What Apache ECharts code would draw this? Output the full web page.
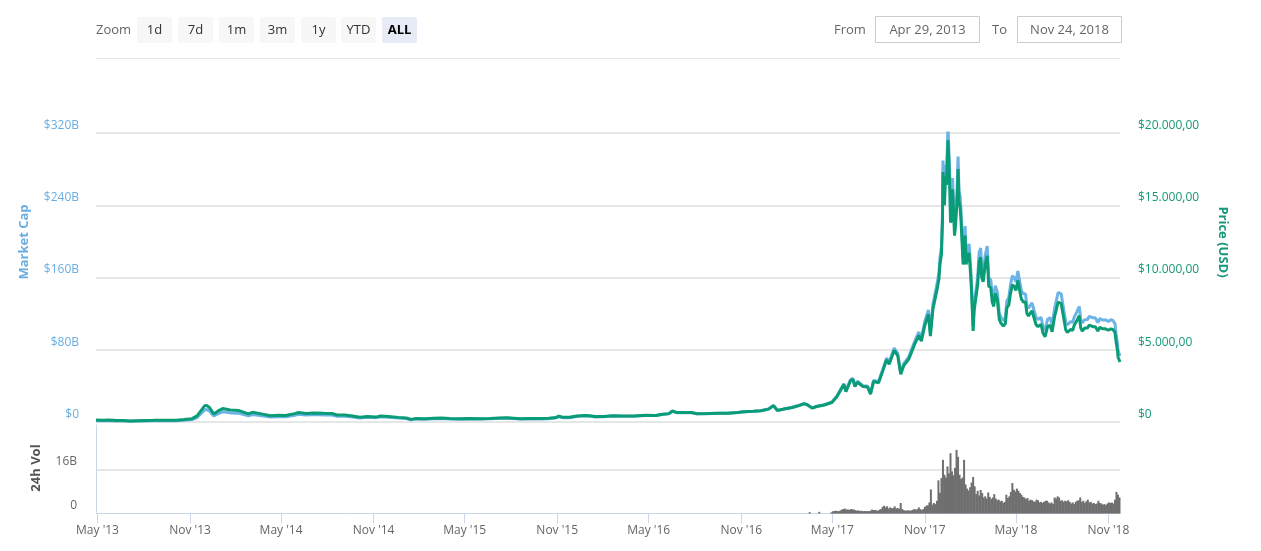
<!DOCTYPE html>
<html>
<head>
<meta charset="utf-8">
<script src="https://cdn.jsdelivr.net/npm/echarts@6.0.0/dist/echarts.min.js"></script>
<style>
html,body{margin:0;padding:0;background:#fff;}
#chart{width:1261px;height:551px;}
</style>
</head>
<body>
<div id="chart"></div>
<script>
// ---------- DATA ----------
const priceDates = [
'2013-04-28','2013-05-10','2013-05-25','2013-06-08','2013-06-22','2013-07-05','2013-07-20','2013-08-05','2013-08-20','2013-09-05',
'2013-09-20','2013-10-05','2013-10-20','2013-11-05','2013-11-15','2013-11-22','2013-11-30','2013-12-04','2013-12-10','2013-12-18',
'2013-12-26','2014-01-05','2014-01-20','2014-02-05','2014-02-25','2014-03-05','2014-03-20','2014-04-10','2014-04-25','2014-05-10',
'2014-05-28','2014-06-05','2014-06-20','2014-07-05','2014-07-25','2014-08-10','2014-08-20','2014-09-05','2014-09-20','2014-10-05',
'2014-10-20','2014-11-05','2014-11-15','2014-12-01','2014-12-20','2015-01-05','2015-01-14','2015-01-25','2015-02-10','2015-03-01',
'2015-03-15','2015-04-01','2015-04-20','2015-05-10','2015-06-01','2015-06-20','2015-07-10','2015-07-25','2015-08-20','2015-09-10',
'2015-09-30','2015-10-15','2015-10-30','2015-11-04','2015-11-12','2015-11-25','2015-12-10','2015-12-25','2016-01-05','2016-01-15',
'2016-02-01','2016-02-20','2016-03-10','2016-04-01','2016-04-25','2016-05-15','2016-05-28','2016-06-10','2016-06-17','2016-06-25',
'2016-07-10','2016-07-25','2016-08-05','2016-08-25','2016-09-15','2016-10-05','2016-10-25','2016-11-05','2016-11-25','2016-12-10',
'2016-12-25','2017-01-04','2017-01-12','2017-01-25','2017-02-10','2017-02-25','2017-03-05','2017-03-12','2017-03-22','2017-03-31',
'2017-04-15','2017-04-30','2017-05-10','2017-05-24','2017-05-28','2017-06-06','2017-06-11','2017-06-15','2017-06-20','2017-07-01',
'2017-07-10','2017-07-16','2017-07-22','2017-08-01','2017-08-08','2017-08-17','2017-08-22','2017-09-01','2017-09-08','2017-09-14',
'2017-09-20','2017-09-30','2017-10-12','2017-10-20','2017-10-25','2017-11-01','2017-11-08','2017-11-12','2017-11-17','2017-11-26',
'2017-11-29','2017-12-01','2017-12-04','2017-12-06','2017-12-07','2017-12-08','2017-12-10','2017-12-12','2017-12-14','2017-12-17',
'2017-12-19','2017-12-21','2017-12-22','2017-12-24','2017-12-26','2017-12-28','2017-12-30','2018-01-01','2018-01-04','2018-01-06',
'2018-01-08','2018-01-10','2018-01-12','2018-01-14','2018-01-16','2018-01-18','2018-01-20','2018-01-22','2018-01-25','2018-01-28',
'2018-01-31','2018-02-02','2018-02-05','2018-02-07','2018-02-10','2018-02-14','2018-02-17','2018-02-20','2018-02-22','2018-02-25',
'2018-03-01','2018-03-05','2018-03-08','2018-03-12','2018-03-15','2018-03-18','2018-03-21','2018-03-25','2018-03-29','2018-04-01',
'2018-04-06','2018-04-10','2018-04-13','2018-04-17','2018-04-20','2018-04-24','2018-04-28','2018-05-01','2018-05-05','2018-05-08',
'2018-05-12','2018-05-16','2018-05-20','2018-05-23','2018-05-26','2018-05-29','2018-06-02','2018-06-05','2018-06-10','2018-06-14',
'2018-06-20','2018-06-24','2018-06-28','2018-07-03','2018-07-08','2018-07-12','2018-07-17','2018-07-20','2018-07-24','2018-07-27',
'2018-07-30','2018-08-03','2018-08-08','2018-08-11','2018-08-14','2018-08-18','2018-08-22','2018-08-25','2018-08-30','2018-09-04',
'2018-09-07','2018-09-10','2018-09-15','2018-09-20','2018-09-24','2018-10-01','2018-10-06','2018-10-11','2018-10-15','2018-10-20',
'2018-10-26','2018-11-01','2018-11-06','2018-11-10','2018-11-14','2018-11-16','2018-11-19','2018-11-20','2018-11-22','2018-11-24'
];
// Price (USD)
const priceValues = [
135,117,131,108,107,68,88,105,113,125,
124,122,170,230,420,750,1120,1150,990,560,
750,930,830,800,560,670,580,430,460,450,
580,660,595,630,600,590,490,480,410,330,
385,340,420,380,320,275,180,250,220,260,
285,245,225,240,225,245,285,290,230,240,
236,255,315,405,330,325,415,455,430,375,
375,440,415,416,460,455,530,580,760,660,
650,655,575,580,610,610,655,705,740,775,
890,1130,800,895,1000,1150,1260,1200,960,1070,
1180,1350,1750,2600,2100,2850,2950,2450,2750,2450,
2420,1930,2800,2720,3400,4300,4000,4950,4600,3300,
3900,4350,5400,6000,5600,6700,7450,5950,7800,9300,
9900,10900,11600,13800,17300,16500,15000,17000,16400,19500,
17800,15600,13800,14000,16100,14600,12900,13600,15200,17500,
15200,14900,13900,13800,10900,11500,12900,10900,11400,11700,
10200,8900,6300,7700,8500,9500,11100,11400,10000,9700,
10900,11500,9400,9300,8300,8000,8900,8500,7100,6850,
6650,6800,7900,8100,8850,9500,9350,9100,9800,9200,
8500,8300,8300,7500,7350,7400,7700,7600,6750,6600,
6750,6150,5900,6600,6700,6250,7300,7400,8300,8200,
8200,7400,6400,6200,6200,6400,6350,6700,7000,7350,
6500,6300,6500,6500,6700,6600,6600,6300,6550,6450,
6450,6350,6450,6400,6200,5600,4950,4500,4400,4150
];
// Market cap (billion USD)
const mcapValues = [
1.50,1.30,1.46,1.21,1.20,0.77,1.00,1.20,1.30,1.45,
1.44,1.43,2.00,2.72,4.99,8.94,13.4,13.8,11.9,6.75,
9.06,11.3,10.1,9.8,6.9,8.3,7.2,5.4,5.8,5.7,
7.4,8.5,7.7,8.2,7.8,7.7,6.4,6.4,5.5,4.4,
5.2,4.6,5.7,5.2,4.4,3.8,2.5,3.4,3.0,3.6,
3.9,3.4,3.1,3.4,3.2,3.5,4.1,4.1,3.3,3.5,
3.4,3.7,4.6,5.9,4.8,4.8,6.2,6.8,6.5,5.6,
5.7,6.7,6.4,6.4,7.1,7.1,8.2,9.0,11.9,10.3,
10.2,10.3,9.0,9.2,9.7,9.7,10.4,11.2,11.8,12.4,
14.3,18.2,12.9,14.4,16.1,18.6,20.4,19.4,15.6,17.4,
19.2,22.0,28.5,42.5,34.3,46.6,48.3,40.1,45.1,40.2,
39.8,31.7,46.1,44.9,56.1,71.0,66.1,81.8,76.1,54.6,
64.6,72.1,89.7,99.7,93.1,111.6,124.2,99.3,130.2,155.4,
165.5,182.2,194.0,230.8,289.4,276.1,251.1,284.6,274.7,326.6,
298.2,261.4,231.3,234.7,270.0,244.9,216.4,228.2,255.1,293.8,
255.2,250.3,233.6,232.0,183.3,193.4,217.0,183.4,191.9,197.0,
171.8,150.0,106.2,129.8,143.4,160.4,187.5,192.6,169.0,164.0,
184.5,194.7,159.2,157.6,140.7,135.7,151.0,144.3,120.6,116.4,
112.3,115.5,134.3,137.8,150.7,161.9,159.4,155.2,167.3,157.1,
145.2,141.9,142.0,128.4,125.9,126.8,132.0,130.4,115.9,113.4,
116.0,105.8,101.6,113.7,115.5,107.8,126.0,127.8,143.4,141.8,
141.9,128.1,110.9,107.5,107.5,111.1,110.3,116.4,121.7,127.9,
113.2,109.8,113.3,113.4,116.9,115.3,115.3,110.2,114.6,112.9,
113.0,111.4,113.2,112.4,108.9,98.4,87.0,79.1,77.4,73.0
];
// 24h volume (billion USD), one bar every 3 days from volStart
const volStart = '2017-04-29';
const volStepDays = 3;
const volValues = [
0.4,0.8,0.9,1.0,0.9,0.8,1.1,1.4,1.6,1.8,
1.4,1.5,1.3,1.6,1.5,1.4,1.2,1.0,1.1,0.9,
1.0,0.8,0.9,0.8,0.9,0.8,1.0,1.4,1.2,1.3,
1.1,1.0,1.4,1.6,2.4,2.8,2.2,2.6,1.8,2.2,
1.9,2.0,2.6,1.8,2.0,1.7,3.8,1.6,1.2,1.1,
1.0,1.2,1.0,1.1,1.3,1.6,1.4,1.5,2.2,1.6,
1.2,1.6,2.4,2.8,3.0,4.0,8.7,3.2,3.8,3.4,
4.6,12.0,7.5,12.8,19.4,14.0,13.0,17.0,14.5,21.8,
15.2,13.8,16.5,23.0,20.5,14.0,12.5,13.0,19.4,10.5,
9.0,8.3,9.5,11.2,13.2,9.8,7.0,8.2,6.5,8.5,
7.4,5.8,6.2,5.4,7.6,6.0,5.2,5.8,7.0,5.4,
4.8,5.0,4.4,4.6,3.8,4.2,6.8,5.6,6.2,7.8,
11.0,8.6,8.0,9.0,8.2,7.4,6.8,6.0,5.8,5.2,
5.6,4.6,5.0,4.8,4.4,4.2,5.0,4.8,4.0,4.2,
3.8,4.2,4.6,4.6,4.0,3.6,4.0,3.4,5.8,5.4,
6.2,5.8,4.6,4.8,4.2,4.6,4.4,4.8,4.2,3.6,
4.0,3.4,4.2,4.6,4.8,5.8,4.2,4.6,3.8,4.4,
5.0,4.0,4.2,3.6,3.8,3.4,3.6,4.6,3.8,3.6,
3.2,3.4,3.0,3.6,4.0,3.8,4.0,3.6,5.0,7.8,
6.8,5.8
];
const earlyVolDates = ['2017-03-17','2017-04-05'];
const earlyVolValues = [0.5,0.6];

const tickDates = ['2013-05-01','2013-11-01','2014-05-01','2014-11-01','2015-05-01','2015-11-01',
                   '2016-05-01','2016-11-01','2017-05-01','2017-11-01','2018-05-01','2018-11-01'];
const tickLabels = ["May '13","Nov '13","May '14","Nov '14","May '15","Nov '15",
                    "May '16","Nov '16","May '17","Nov '17","May '18","Nov '18"];
const zoomButtons = ['1d','7d','1m','3m','1y','YTD','ALL'];
const fromDate = 'Apr 29, 2013';
const toDate = 'Nov 24, 2018';

// ---------- BUILD ----------
const DAY = 86400000;
const ts = s => Date.parse(s + 'T00:00:00Z');
const tickTs = tickDates.map(ts);
const priceData = priceDates.map((d, i) => [ts(d), priceValues[i]]);
const mcapData = priceDates.map((d, i) => [ts(d), mcapValues[i]]);
const volData = earlyVolDates.map((d, i) => [ts(d), earlyVolValues[i]])
  .concat(volValues.map((v, i) => [ts(volStart) + i * volStepDays * DAY, v]));

const FONT = "'Open Sans', 'DejaVu Sans', sans-serif";
const BLUE = '#6cb3e6';
const BLUE_LBL = '#6aaee0';
const GREEN = '#0a9c76';
const GREEN_LBL = '#16987a';
const xMin = ts('2013-04-28'), xMax = ts('2018-11-24');

function priceFmt(v) {
  if (v === 0) return '$0';
  const s = String(v).replace(/\B(?=(\d{3})+(?!\d))/g, '.');
  return '$' + s + ',00';
}

// header graphics
const graphics = [];
graphics.push({type:'text', x:96, y:30, style:{text:'Zoom', fill:'#666', font:"13px " + FONT, textVerticalAlign:'middle'}});
const btnX = [137, 178, 219, 260, 301, 341, 382];
zoomButtons.forEach((b, i) => {
  const sel = b === 'ALL';
  graphics.push({type:'rect', shape:{x:btnX[i], y:17, width:35, height:26, r:2},
    style:{fill: sel ? '#e6ebf5' : '#f7f7f7'}});
  graphics.push({type:'text', x:btnX[i] + 17.5, y:30,
    style:{text:b, fill: sel ? '#000' : '#333', font:(sel ? 'bold ' : '') + "13px " + FONT,
      textAlign:'center', textVerticalAlign:'middle'}});
});
graphics.push({type:'text', x:834, y:30, style:{text:'From', fill:'#666', font:"13px " + FONT, textVerticalAlign:'middle'}});
graphics.push({type:'rect', shape:{x:875.5, y:16.5, width:104, height:26}, style:{fill:'#fff', stroke:'#cccccc', lineWidth:1}});
graphics.push({type:'text', x:927.5, y:30, style:{text:fromDate, fill:'#666', font:"13px " + FONT, textAlign:'center', textVerticalAlign:'middle'}});
graphics.push({type:'text', x:992, y:30, style:{text:'To', fill:'#666', font:"13px " + FONT, textVerticalAlign:'middle'}});
graphics.push({type:'rect', shape:{x:1017.5, y:16.5, width:104, height:26}, style:{fill:'#fff', stroke:'#cccccc', lineWidth:1}});
graphics.push({type:'text', x:1069.5, y:30, style:{text:toDate, fill:'#666', font:"13px " + FONT, textAlign:'center', textVerticalAlign:'middle'}});
graphics.push({type:'line', shape:{x1:96, y1:58.5, x2:1120, y2:58.5}, style:{stroke:'#e6e6e6', lineWidth:1}});
// axis titles
graphics.push({type:'text', x:24, y:242, rotation:Math.PI/2,
  style:{text:'Market Cap', fill:BLUE_LBL, font:"bold 13px " + FONT, textAlign:'center', textVerticalAlign:'middle'}});
graphics.push({type:'text', x:1223, y:242, rotation:-Math.PI/2,
  style:{text:'Price (USD)', fill:GREEN_LBL, font:"bold 13px " + FONT, textAlign:'center', textVerticalAlign:'middle'}});
graphics.push({type:'text', x:36, y:468, rotation:Math.PI/2,
  style:{text:'24h Vol', fill:'#555', font:"bold 13px " + FONT, textAlign:'center', textVerticalAlign:'middle'}});

const chart = echarts.init(document.getElementById('chart'), null, {renderer:'canvas'});
chart.setOption({
  animation:false,
  backgroundColor:'#fff',
  textStyle:{fontFamily:FONT},
  graphic:graphics,
  grid:[
    {left:96, right:141, top:133, height:289},
    {left:96, right:141, top:425, height:88.5}
  ],
  xAxis:[
    {type:'value', gridIndex:0, min:xMin, max:xMax, show:false, splitLine:{show:false}},
    {type:'value', gridIndex:1, min:xMin, max:xMax,
     axisLine:{show:true, lineStyle:{color:'#ccd6eb', width:1}},
     axisTick:{show:true, length:10, lineStyle:{color:'#ccd6eb'}, customValues:tickTs},
     axisLabel:{show:true, customValues:tickTs, color:'#666', fontSize:12, margin:11, fontFamily:FONT,
       formatter: v => { const i = tickTs.indexOf(v); return i >= 0 ? tickLabels[i] : ''; }},
     splitLine:{show:false}}
  ],
  yAxis:[
    {type:'value', gridIndex:0, min:0, max:320, interval:80, position:'left',
     axisLine:{show:false}, axisTick:{show:false},
     axisLabel:{formatter: v => v === 0 ? '$0' : '$' + v + 'B', color:BLUE_LBL, fontSize:12, margin:17,
       verticalAlign:'bottom', lineHeight:15, fontFamily:FONT},
     splitLine:{show:true, lineStyle:{color:'#e6e6e6', width:2}}},
    {type:'value', gridIndex:0, min:0, max:20000, interval:5000, position:'right',
     axisLine:{show:false}, axisTick:{show:false},
     axisLabel:{formatter: priceFmt, color:GREEN_LBL, fontSize:12, margin:18,
       verticalAlign:'bottom', lineHeight:15, fontFamily:FONT},
     splitLine:{show:false}},
    {type:'value', gridIndex:1, min:0, max:32, interval:16, position:'left',
     axisLine:{show:true, lineStyle:{color:'#ccd6eb'}}, axisTick:{show:false},
     axisLabel:{formatter: v => v === 0 ? '0' : (v === 16 ? '16B' : ''), color:'#666', fontSize:12, margin:19,
       verticalAlign:'bottom', lineHeight:15, fontFamily:FONT},
     splitLine:{show:true, showMinLine:false, showMaxLine:false, lineStyle:{color:'#e6e6e6', width:2}}}
  ],
  series:[
    {name:'Market Cap', type:'line', xAxisIndex:0, yAxisIndex:0, data:mcapData, showSymbol:false,
     lineStyle:{color:BLUE, width:3}, itemStyle:{color:BLUE}, z:2},
    {name:'Price (USD)', type:'line', xAxisIndex:0, yAxisIndex:1, data:priceData, showSymbol:false,
     lineStyle:{color:GREEN, width:3}, itemStyle:{color:GREEN}, z:3},
    {name:'24h Vol', type:'bar', xAxisIndex:1, yAxisIndex:2, data:volData, barWidth:2,
     itemStyle:{color:'#6f6f6f'}, z:2}
  ]
});
</script>
</body>
</html>
